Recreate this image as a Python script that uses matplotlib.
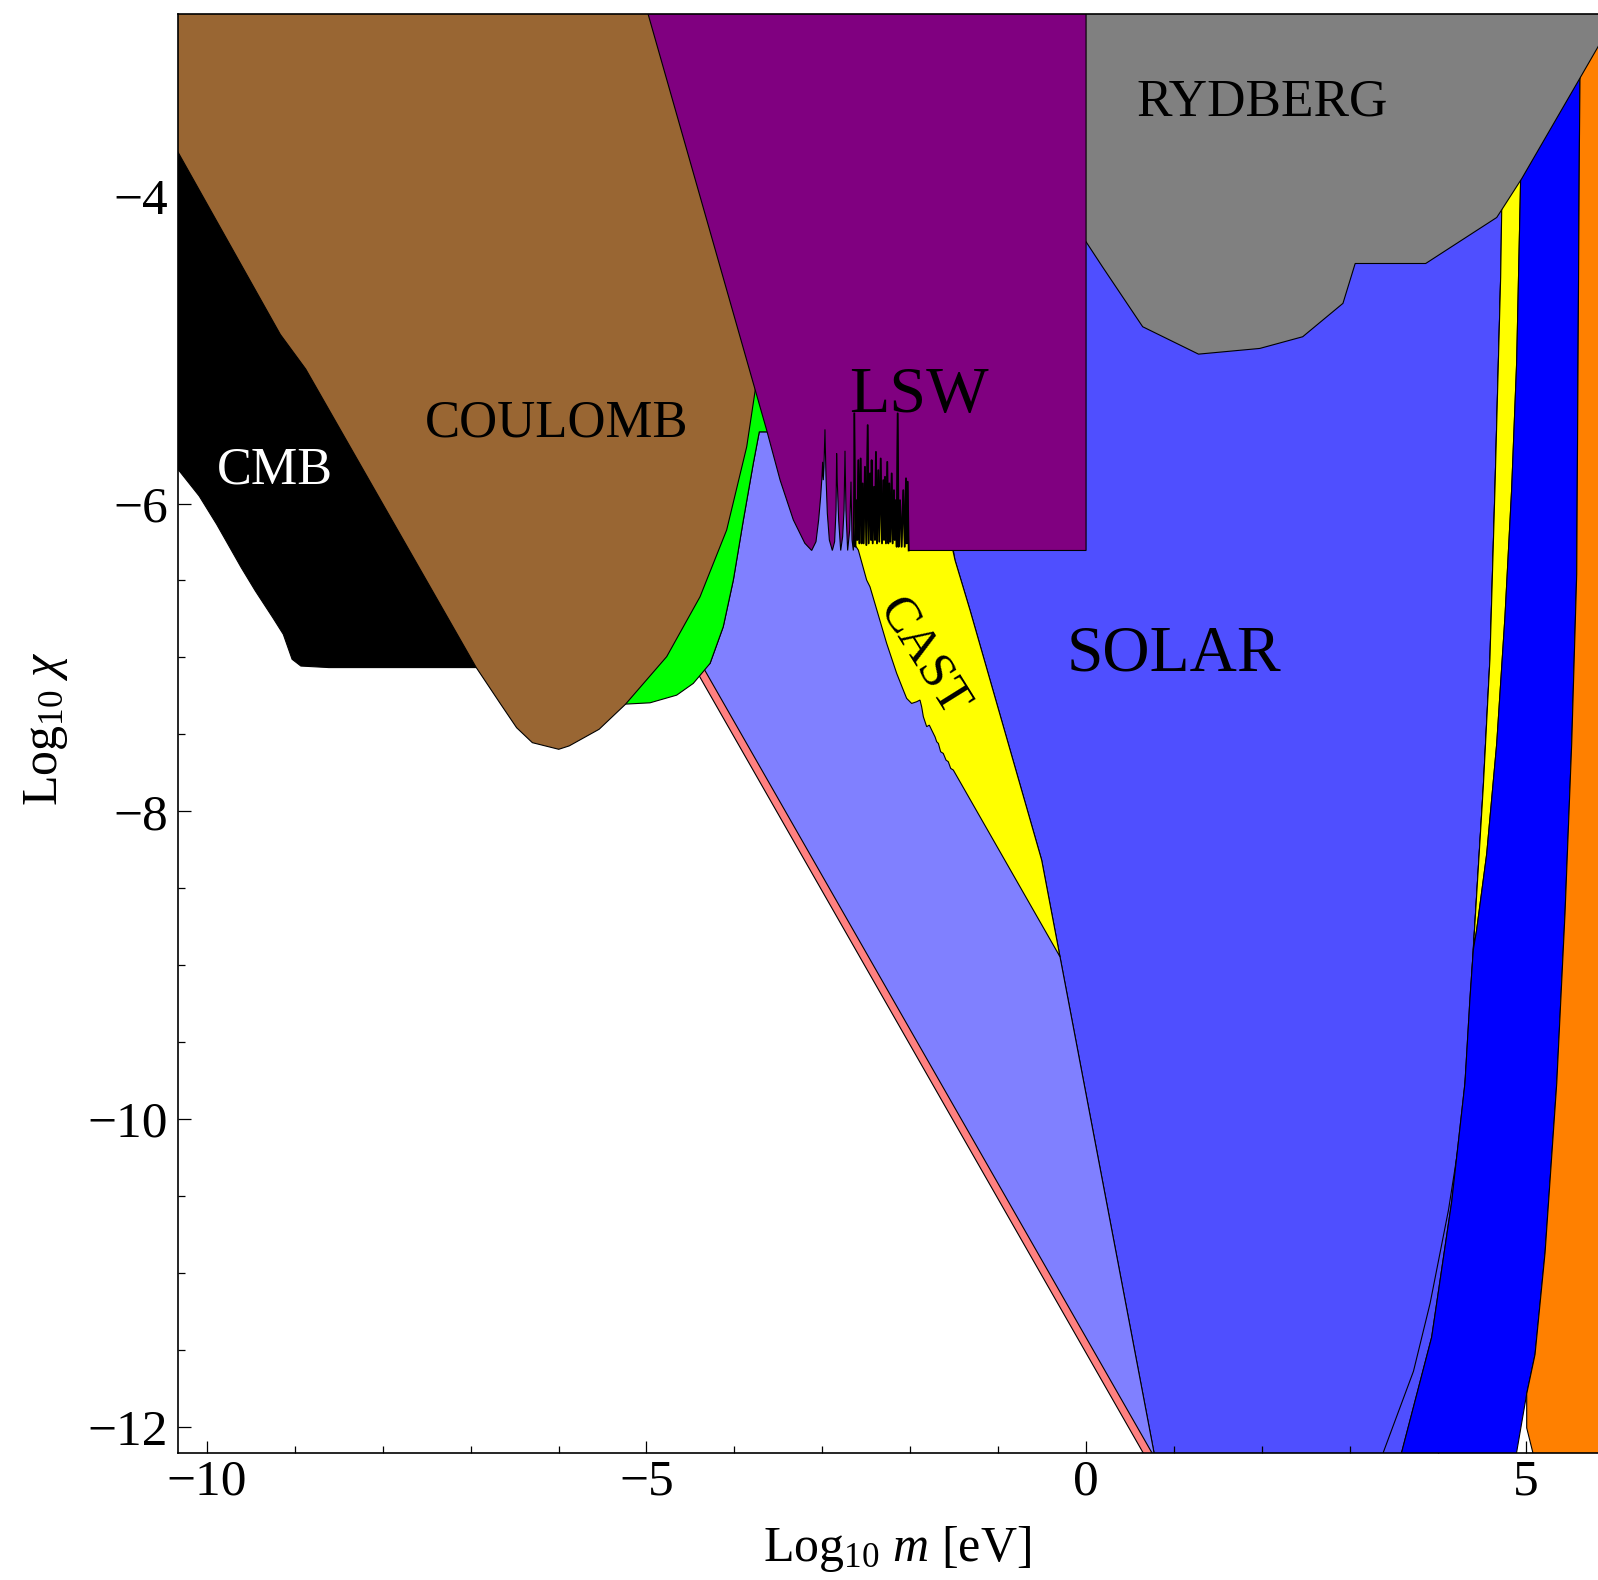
import matplotlib
matplotlib.use('Agg')
import matplotlib.pyplot as plt
from matplotlib.ticker import FixedLocator, MultipleLocator

plt.rcParams['font.family'] = ['Liberation Serif', 'DejaVu Serif']
plt.rcParams['mathtext.fontset'] = 'custom'
plt.rcParams['mathtext.rm'] = 'Liberation Serif'
plt.rcParams['mathtext.it'] = 'Liberation Serif:italic'

# ---------------- data (log10 m [eV], log10 chi) ----------------
solar_x = [-1.6, -1.491, -1.3203, -0.5052, -0.2967, 0.80, 3.551, 3.591, 3.931, 4.159, 4.310, 4.367, 4.405,
           4.442, 4.519, 4.594, 4.651, 4.716, 4.728, 4.75, -0.2]
solar_y = [-6.0, -6.3675, -6.6924, -8.3169, -8.945, -12.25, -12.25, -12.163, -11.418, -10.537, -9.765, -9.214, -8.90,
           -8.553, -7.836, -7.010, -5.907, -4.529, -4.089, -3.8, -3.8]

hidden_x = [-3.717, -3.62, -3.55, -1.6, -1.6, -0.40, -0.2967, 0.80, 0.78, -4.39, -4.277, -4.127, -4.012, -3.898, -3.785]
hidden_y = [-5.534, -5.534, -5.3, -5.3, -6.305, -8.80, -8.945, -12.25, -12.25, -7.08, -7.039, -6.801, -6.497, -6.107, -5.739]

pink_x = [-4.42, 0.83, 0.73, -4.52]
pink_y = [-7.0, -12.25, -12.25, -7.0]

green_x = [-3.80, -3.62, -3.62, -3.717, -3.785, -3.898, -4.012, -4.127, -4.277, -4.334, -4.468, -4.656, -4.960,
           -5.225, -5.40, -4.0]
green_y = [-5.0, -5.523, -5.534, -5.534, -5.739, -6.107, -6.497, -6.801, -7.039, -7.078, -7.169, -7.245, -7.295,
           -7.303, -7.30, -5.8]

cast_x = [-2.65, -2.65, -2.5904, -2.4957, -2.4577, -2.268, -2.154, -2.079, -2.041, -1.984, -1.927, -1.889, -1.870,
          -1.851, -1.813, -1.783, -1.756, -1.718, -1.699, -1.680, -1.654, -1.624, -1.593, -1.567, -1.540, -1.510,
          -0.2967, -0.5052, -1.3203, -1.491, -1.515, -1.55]
cast_y = [-5.3, -6.25, -6.3025, -6.4975, -6.541, -6.909, -7.104, -7.212, -7.266, -7.299, -7.288, -7.277, -7.321,
          -7.385, -7.450, -7.440, -7.472, -7.516, -7.548, -7.559, -7.613, -7.624, -7.667, -7.678, -7.721, -7.732,
          -8.945, -8.3169, -6.6924, -6.3675, -6.305, -5.3]

cmb_x = [-10.6, -8.0, -6.8, -8.612, -8.931, -9.031, -9.131, -9.250, -9.449, -9.609, -9.889, -10.088, -10.328, -10.6]
cmb_y = [-3.44, -5.5, -7.066, -7.066, -7.056, -7.012, -6.850, -6.742, -6.568, -6.417, -6.135, -5.951, -5.778, -5.6]

coul_x = [-10.6, -10.6, -10.336, -9.165, -8.876, -6.936, -6.657, -6.477, -6.298, -5.998, -5.879, -5.539, -5.240,
          -4.770, -4.391, -4.088, -3.860, -3.746, -3.6, -4.9]
coul_y = [-2.5, -3.44, -3.709, -4.901, -5.126, -7.066, -7.305, -7.457, -7.554, -7.597, -7.575, -7.467, -7.305,
          -6.995, -6.606, -6.172, -5.631, -5.198, -4.5, -2.5]

lsw_left_x = [-5.141, -3.633, -3.480, -3.330, -3.199]
lsw_left_y = [-2.5, -5.523, -5.848, -6.106, -6.258]
lsw_edge_x = [-3.121, -3.072, -3.042, -3.019, -3.004, -2.996, -2.989, -2.981, -2.970, -2.958, -2.943, -2.920, -2.886,
              -2.860, -2.844, -2.837, -2.829, -2.814, -2.791, -2.769, -2.753, -2.742, -2.731, -2.712, -2.689, -2.674,
              -2.662, -2.647, -2.636, -2.625, -2.609, -2.602, -2.590, -2.579, -2.564, -2.553, -2.541, -2.530, -2.515,
              -2.499, -2.484, -2.473, -2.458, -2.446, -2.439, -2.427, -2.412, -2.401, -2.390, -2.378, -2.363, -2.352,
              -2.336, -2.321, -2.306, -2.298, -2.287, -2.276, -2.261, -2.249, -2.238, -2.226, -2.211, -2.200, -2.185,
              -2.177, -2.166, -2.154, -2.143, -2.132, -2.116, -2.098, -2.079, -2.063, -2.048, -2.041, -2.029, -2.018]
lsw_edge_y = [-6.305, -6.248, -6.108, -5.956, -5.826, -5.729, -5.848, -5.761, -5.518, -5.826, -6.064, -6.237, -6.305,
              -6.248, -6.043, -5.674, -5.869, -6.108, -6.305, -6.216, -6.043, -5.657, -6.043, -6.305, -6.173, -5.858,
              -6.237, -6.305, -5.414, -6.281, -5.978, -6.237, -5.718, -6.259, -5.707, -6.259, -5.869, -6.259, -5.761,
              -6.270, -5.490, -6.259, -5.804, -6.237, -5.718, -6.259, -5.891, -6.237, -5.664, -6.259, -5.783, -6.248,
              -5.707, -6.259, -5.848, -6.237, -5.826, -6.259, -5.729, -6.259, -5.869, -6.248, -5.804, -6.259, -5.913,
              -6.237, -5.978, -6.281, -5.414, -6.281, -5.978, -6.281, -5.913, -6.281, -5.836, -6.259, -5.858, -6.305]
lsw_right_x = [0.0, 0.0]
lsw_right_y = [-6.305, -2.5]

ryd_x = [-0.1, 0.0, 0.186, 0.644, 1.279, 1.976, 2.464, 2.922, 3.061, 3.863, 4.671, 4.738, 4.957, 5.618, 5.823,
         6.5, 6.5, -0.1]
ryd_y = [-4.2, -4.299, -4.461, -4.851, -5.029, -4.992, -4.916, -4.699, -4.440, -4.440, -4.141, -4.082, -3.887,
         -3.235, -3.032, -2.36, -2.0, -2.0]

ystrip_x = [4.70, 4.728, 4.716, 4.651, 4.594, 4.519, 4.442, 4.405, 4.442, 4.557, 4.671, 4.765, 4.841, 4.898, 4.943, 4.99]
ystrip_y = [-3.6, -4.089, -4.529, -5.907, -7.010, -7.836, -8.553, -8.90, -8.774, -8.278, -7.561, -6.735, -5.907,
            -5.081, -3.896, -3.6]

blue_x = [4.90, 5.65, 5.618, 5.611, 5.581, 5.524, 5.448, 5.354, 5.221, 5.107, 5.012, 4.872, 3.551, 3.591, 3.931,
          4.159, 4.310, 4.367, 4.405, 4.442, 4.557, 4.671, 4.765, 4.841, 4.898, 4.943]
blue_y = [-3.5, -2.9, -3.248, -3.703, -6.459, -7.561, -8.664, -9.767, -10.869, -11.530, -11.786, -12.25, -12.25,
          -12.163, -11.418, -10.537, -9.765, -9.214, -8.90, -8.774, -8.278, -7.561, -6.735, -5.907, -5.081, -3.896]

orange_x = [5.65, 5.65, 5.618, 5.611, 5.581, 5.524, 5.448, 5.354, 5.221, 5.107, 5.012, 5.012, 5.080, 5.10, 6.5, 6.5]
orange_y = [-2.5, -2.9, -3.248, -3.703, -6.459, -7.561, -8.664, -9.767, -10.869, -11.530, -11.786, -12.007,
            -12.163, -12.25, -12.25, -2.5]

lineA_x = [4.716, 4.651, 4.594, 4.519, 4.442, 4.405, 4.349, 4.273, 4.122, 3.913, 3.724, 3.383, 3.36]
lineA_y = [-4.529, -5.907, -7.010, -7.836, -8.553, -8.883, -9.490, -10.041, -10.592, -11.198, -11.639, -12.163, -12.25]

labels = ['CMB', 'COULOMB', 'LSW', 'RYDBERG', 'SOLAR', 'CAST']
label_x = [-9.223, -6.024, -1.897, 1.998, 1.001, -1.849]
label_y = [-5.788, -5.477, -5.300, -3.391, -6.980, -7.000]

xticks = [-10, -5, 0, 5]
xticklabels = ['\u221210', '\u22125', '0', '5']
yticks = [-4, -6, -8, -10, -12]
yticklabels = ['\u22124', '\u22126', '\u22128', '\u221210', '\u221212']

# ---------------- figure ----------------
fig = plt.figure(figsize=(15.98, 15.80), dpi=100)
ax = fig.add_axes([0.1111, 0.0804, 0.8889, 0.9107])
ax.set_xlim(-10.334, 5.823)
ax.set_ylim(-12.170, -2.819)

lw = 0.8
def poly(xs, ys, color, z):
    ax.fill(xs, ys, facecolor=color, edgecolor='black', linewidth=lw, zorder=z)

poly(solar_x, solar_y, '#4F4FFF', 1)
poly(hidden_x, hidden_y, '#8080FF', 1.1)
poly(pink_x, pink_y, '#FF8080', 1.2)
poly(green_x, green_y, '#00FF00', 1.3)
poly(cast_x, cast_y, '#FFFF00', 1.4)
poly(cmb_x, cmb_y, '#000000', 1.5)
poly(coul_x, coul_y, '#996633', 1.6)
ax.plot(lineA_x, lineA_y, color='black', lw=lw, zorder=1.65)
poly(ystrip_x, ystrip_y, '#FFFF00', 1.7)
poly(blue_x, blue_y, '#0000FF', 1.75)
poly(orange_x, orange_y, '#FF8000', 1.8)
poly(ryd_x, ryd_y, '#808080', 1.85)
lsw_x = lsw_left_x + lsw_edge_x + lsw_right_x
lsw_y = lsw_left_y + lsw_edge_y + lsw_right_y
poly(lsw_x, lsw_y, '#800080', 1.9)
# resonance spikes drawn a bit heavier, as in the original
ax.plot(lsw_edge_x[28:], lsw_edge_y[28:], color='black', lw=1.3, zorder=1.95)

sizes = [37.6, 38, 47.6, 38.3, 47.2, 36.6]
colors = ['white', 'black', 'black', 'black', 'black', 'black']
rots = [0, 0, 0, 0, 0, -58]
for t, x, y, s, c, r in zip(labels, label_x, label_y, sizes, colors, rots):
    ax.text(x, y, t, fontsize=s, color=c, rotation=r, ha='center', va='center', zorder=5,
            rotation_mode='anchor')

ax.xaxis.set_major_locator(FixedLocator(xticks))
ax.set_xticklabels(xticklabels)
ax.xaxis.set_minor_locator(MultipleLocator(1))
ax.yaxis.set_major_locator(FixedLocator(yticks))
ax.set_yticklabels(yticklabels)
ax.yaxis.set_minor_locator(MultipleLocator(0.5))
ax.tick_params(which='both', direction='in', top=True, right=False, width=0.9, zorder=6)
ax.tick_params(which='major', length=9, labelsize=37)
ax.tick_params(which='minor', length=5)
ax.tick_params(axis='x', which='major', pad=4)
ax.tick_params(axis='y', which='major', pad=7)
for side in ['left', 'bottom', 'top']:
    ax.spines[side].set_linewidth(1.2)
    ax.spines[side].set_zorder(6)
ax.spines['right'].set_visible(False)

fig.text(897 / 1598, 1 - 1549 / 1580, 'Log$_{10}$ $m$ [eV]', fontsize=36, ha='center', va='center')
fig.text(46 / 1598, 1 - 729 / 1580, 'Log$_{10}$ $\\chi$', fontsize=36, ha='center', va='center', rotation=90)

fig.savefig('out.png', dpi=100)
